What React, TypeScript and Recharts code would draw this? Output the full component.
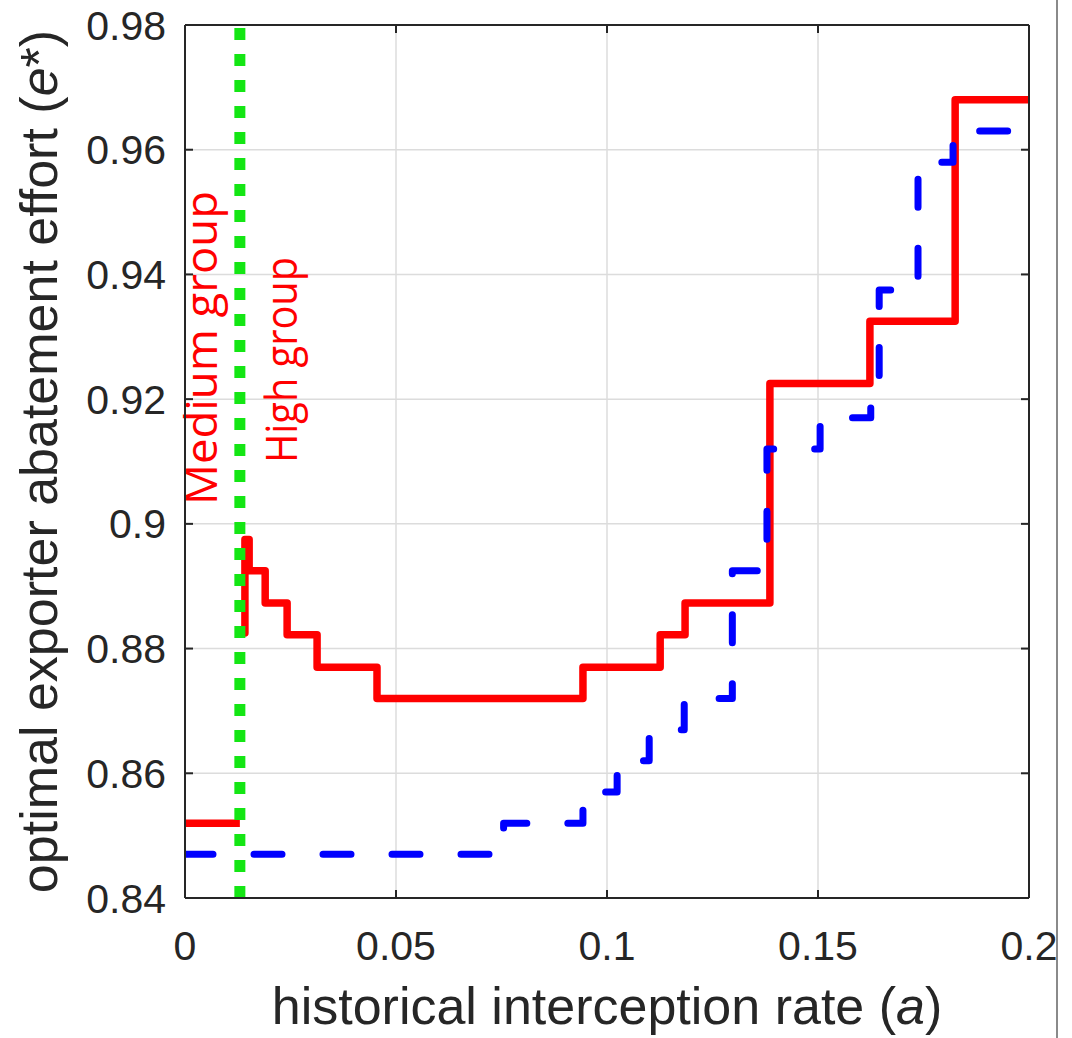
import { LineChart, Line, XAxis, YAxis, CartesianGrid, ReferenceLine, Label } from 'recharts';

// axis ticks
const xTicks = [0, 0.05, 0.1, 0.15, 0.2];
const yTicks = [0.84, 0.86, 0.88, 0.9, 0.92, 0.94, 0.96, 0.98];

// boundary between medium and high group
const groupSplit = 0.013;

// red solid step line, medium group part
const redMedium = [
    { x: 0, y: 0.852 },
    { x: 0.013, y: 0.852 },
];

// red solid step line, high group part
const redHigh = [
    { x: 0.0142, y: 0.8825 },
    { x: 0.0142, y: 0.8975 },
    { x: 0.0152, y: 0.8925 },
    { x: 0.019, y: 0.8873 },
    { x: 0.0242, y: 0.8822 },
    { x: 0.0313, y: 0.877 },
    { x: 0.0455, y: 0.872 },
    { x: 0.0943, y: 0.877 },
    { x: 0.1126, y: 0.8822 },
    { x: 0.1185, y: 0.8873 },
    { x: 0.1386, y: 0.9225 },
    { x: 0.1623, y: 0.9325 },
    { x: 0.1825, y: 0.968 },
    { x: 0.2, y: 0.968 },
];

// blue dashed step line
const blueSteps = [
    { x: 0, y: 0.847 },
    { x: 0.0755, y: 0.852 },
    { x: 0.0943, y: 0.857 },
    { x: 0.1024, y: 0.862 },
    { x: 0.11, y: 0.867 },
    { x: 0.1183, y: 0.872 },
    { x: 0.1297, y: 0.8925 },
    { x: 0.1379, y: 0.912 },
    { x: 0.1505, y: 0.917 },
    { x: 0.1625, y: 0.922 },
    { x: 0.1645, y: 0.9375 },
    { x: 0.1737, y: 0.958 },
    { x: 0.182, y: 0.963 },
    { x: 0.2, y: 0.963 },
];

const axisColor = '#262626';
const font = '"Liberation Sans", Arial, Helvetica, sans-serif';
const tickStyle = { fill: axisColor, fontSize: 41, fontFamily: font };

function XTitle(props: any) {
    const vb = props.viewBox;
    return (
        <text x={vb.x + vb.width / 2} y={vb.y + 126} textAnchor="middle" fill={axisColor} fontSize={52} fontFamily={font}>
            historical interception rate (<tspan fontStyle="italic">a</tspan>)
        </text>
    );
}

function YTitle(props: any) {
    const vb = props.viewBox;
    const cx = vb.x + 57;
    const cy = vb.y + vb.height / 2;
    return (
        <text
            x={cx}
            y={cy}
            transform={`rotate(-90, ${cx}, ${cy})`}
            textAnchor="middle"
            fill={axisColor}
            fontSize={52}
            fontFamily={font}
        >
            optimal exporter abatement effort (<tspan fontStyle="italic">e</tspan>*)
        </text>
    );
}

function GroupLabels(props: any) {
    const vb = props.viewBox;
    const mx = vb.x - 23;
    const my = vb.y + 480;
    const hx = vb.x + 57;
    const hy = vb.y + 438;
    const style = { fill: '#ff0000', fontSize: 43, fontFamily: '"Open Sans", "Noto Sans", sans-serif' };
    return (
        <g>
            <text x={mx} y={my} transform={`rotate(-90, ${mx}, ${my})`} textLength={314} lengthAdjust="spacingAndGlyphs" {...style}>
                Medium group
            </text>
            <text x={hx} y={hy} transform={`rotate(-90, ${hx}, ${hy})`} textLength={206} lengthAdjust="spacingAndGlyphs" {...style}>
                High group
            </text>
        </g>
    );
}

export default function App() {
    return (
        <div style={{ position: 'absolute', left: 0, top: 0, width: 1072, height: 1038, background: '#fff' }}>
            <LineChart width={1072} height={1038} margin={{ top: 0, right: 0, bottom: 0, left: 0 }}>
                <CartesianGrid stroke="#dcdcdc" strokeWidth={1.5} />
                <XAxis
                    dataKey="x"
                    type="number"
                    domain={[0, 0.2]}
                    ticks={xTicks}
                    height={140}
                    tick={tickStyle}
                    tickSize={-8}
                    tickMargin={41}
                    axisLine={{ stroke: axisColor, strokeWidth: 2 }}
                    tickLine={{ stroke: axisColor, strokeWidth: 2 }}
                    allowDataOverflow
                >
                    <Label content={XTitle} />
                </XAxis>
                <XAxis
                    xAxisId="top"
                    orientation="top"
                    dataKey="x"
                    type="number"
                    domain={[0, 0.2]}
                    ticks={xTicks}
                    height={25}
                    tickFormatter={() => ''}
                    tickSize={-8}
                    tickMargin={0}
                    axisLine={{ stroke: axisColor, strokeWidth: 2 }}
                    tickLine={{ stroke: axisColor, strokeWidth: 2 }}
                    allowDataOverflow
                />
                <YAxis
                    type="number"
                    domain={[0.84, 0.98]}
                    ticks={yTicks}
                    width={185}
                    tick={tickStyle}
                    tickSize={-8}
                    tickMargin={27}
                    axisLine={{ stroke: axisColor, strokeWidth: 2 }}
                    tickLine={{ stroke: axisColor, strokeWidth: 2 }}
                    allowDataOverflow
                >
                    <Label content={YTitle} />
                </YAxis>
                <YAxis
                    yAxisId="right"
                    orientation="right"
                    type="number"
                    domain={[0.84, 0.98]}
                    ticks={yTicks}
                    width={43}
                    tickFormatter={() => ''}
                    tickSize={-8}
                    tickMargin={0}
                    axisLine={{ stroke: axisColor, strokeWidth: 2 }}
                    tickLine={{ stroke: axisColor, strokeWidth: 2 }}
                    allowDataOverflow
                />
                <Line
                    data={redMedium}
                    dataKey="y"
                    type="stepAfter"
                    stroke="#ff0000"
                    strokeWidth={7.5}
                    strokeLinejoin="round"
                    dot={false}
                    activeDot={false}
                    isAnimationActive={false}
                />
                <Line
                    data={redHigh}
                    dataKey="y"
                    type="stepAfter"
                    stroke="#ff0000"
                    strokeWidth={7.5}
                    strokeLinejoin="round"
                    strokeLinecap="round"
                    dot={false}
                    activeDot={false}
                    isAnimationActive={false}
                />
                <Line
                    data={blueSteps}
                    dataKey="y"
                    type="stepAfter"
                    stroke="#0000ff"
                    strokeWidth={7}
                    strokeDasharray="28 41"
                    strokeLinecap="round"
                    strokeLinejoin="round"
                    dot={false}
                    activeDot={false}
                    isAnimationActive={false}
                />
                <ReferenceLine
                    x={groupSplit}
                    stroke="#14e614"
                    strokeWidth={11}
                    strokeDasharray="12 14"
                    ifOverflow="extendDomain"
                    label={GroupLabels}
                />
            </LineChart>
            <div style={{ position: 'absolute', left: 1056, top: 0, width: 2, height: 1038, background: '#8a8a8a' }} />
        </div>
    );
}
